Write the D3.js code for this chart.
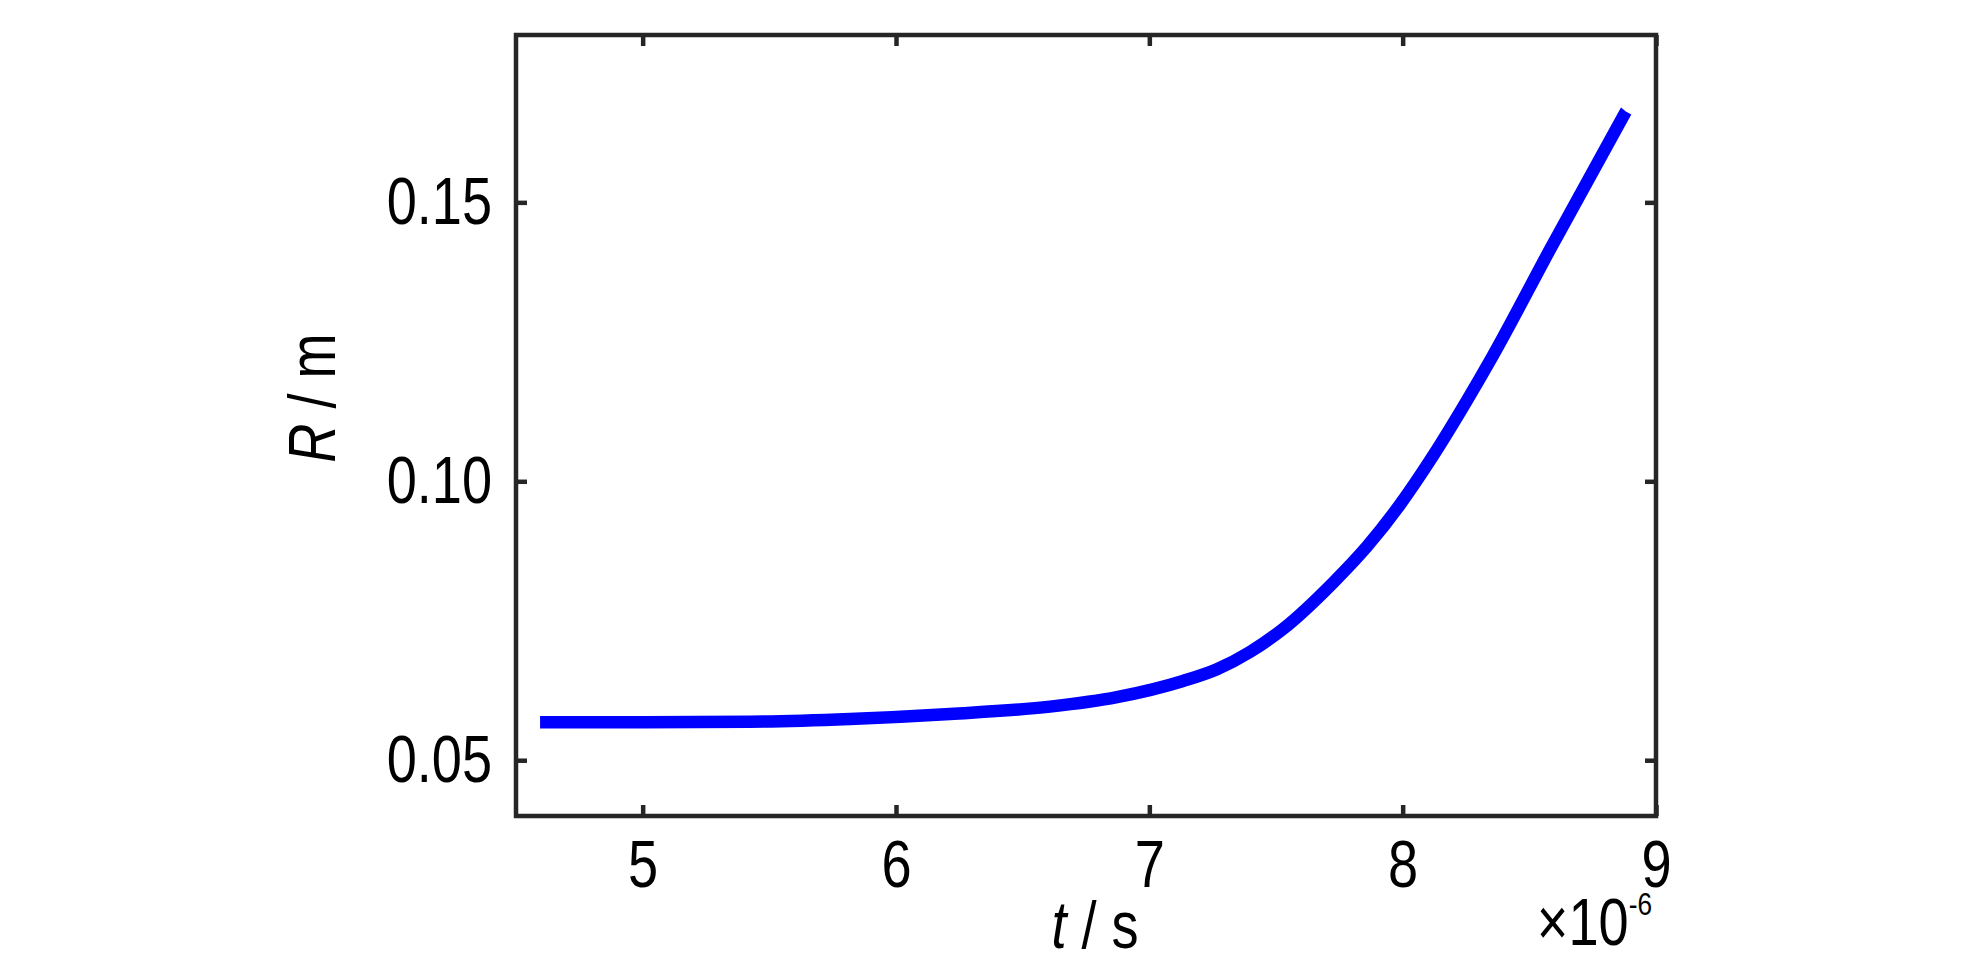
<!DOCTYPE html>
<html>
<head>
<meta charset="utf-8">
<script src="https://cdn.jsdelivr.net/npm/d3@7"></script>
<style>
  body { margin: 0; background: #fff; }
  text { font-family: "Liberation Sans", Arial, sans-serif; fill: #000; }
</style>
</head>
<body>
<div id="viz"></div>
<script>
    // size of the page
    var width = 1984;
    var height = 969;

    var margin = { top: 35, left: 516, right: 328, bottom: 153 };
    var innerWidth = width - margin.left - margin.right;
    var innerHeight = height - margin.top - margin.bottom;

    // time in units of 1e-6 s, radius in m
    var tValues = [4.595, 5.0, 5.424, 5.818, 6.213, 6.608, 6.872, 7.133, 7.267, 7.397, 7.527, 7.725, 7.859, 7.989, 8.119, 8.254, 8.356, 8.581, 8.881];
    var rValues = [0.0568, 0.0568, 0.0569, 0.0574, 0.0583, 0.0596, 0.0613, 0.0642, 0.0663, 0.0694, 0.0735, 0.0818, 0.0883, 0.0958, 0.1045, 0.1145, 0.1225, 0.1415, 0.1663];

    var xTicks = [5, 6, 7, 8, 9];
    var yTicks = [0.05, 0.10, 0.15];
    var xDomain = [4.5, 9];
    var yDomain = [0.04, 0.18];
    var xExponent = '-6';

    var data = tValues.map(function (t, i) { return { t: t, r: rValues[i] }; });

    var svg = d3.select('#viz')
        .append('svg')
        .attr('width', width)
        .attr('height', height);

    var g = svg.append('g')
        .attr('transform', 'translate(' + margin.left + ',' + margin.top + ')');

    var xScale = d3.scaleLinear().domain(xDomain).range([0, innerWidth]);
    var yScale = d3.scaleLinear().domain(yDomain).range([innerHeight, 0]);

    var axisColor = '#262626';
    var fontSize = 66;

    // ticks on all four sides, pointing inwards
    var axes = [
        { axis: d3.axisBottom(xScale).tickValues(xTicks).tickFormat(d3.format('d')), at: 'translate(0,' + innerHeight + ')', labels: true },
        { axis: d3.axisTop(xScale).tickValues(xTicks), at: 'translate(0,0)', labels: false },
        { axis: d3.axisLeft(yScale).tickValues(yTicks).tickFormat(d3.format('.2f')), at: 'translate(0,0)', labels: true },
        { axis: d3.axisRight(yScale).tickValues(yTicks), at: 'translate(' + innerWidth + ',0)', labels: false }
    ];

    axes.forEach(function (a) {
        var ax = g.append('g')
            .attr('transform', a.at)
            .call(a.axis.tickSizeInner(-11).tickSizeOuter(0).tickPadding(24));
        ax.select('.domain').remove();
        ax.selectAll('line').attr('stroke', axisColor).attr('stroke-width', 4.5);
        if (a.labels) {
            ax.selectAll('text').style('font-size', fontSize + 'px').attr('fill', '#000');
        } else {
            ax.selectAll('text').remove();
        }
    });

    // box
    g.append('rect')
        .attr('x', 0)
        .attr('y', 0)
        .attr('width', innerWidth)
        .attr('height', innerHeight)
        .attr('fill', 'none')
        .attr('stroke', axisColor)
        .attr('stroke-width', 4.5);

    // the curve
    var line = d3.line()
        .x(function (d) { return xScale(d.t); })
        .y(function (d) { return yScale(d.r); })
        .curve(d3.curveMonotoneX);

    g.append('path')
        .datum(data)
        .attr('d', line)
        .attr('fill', 'none')
        .attr('stroke', '#0000ff')
        .attr('stroke-width', 12.5)
        .attr('stroke-linecap', 'butt');

    // x label
    var xLabel = svg.append('text')
        .attr('x', 1095)
        .attr('y', 948)
        .attr('text-anchor', 'middle')
        .style('font-size', fontSize + 'px');
    xLabel.append('tspan').style('font-style', 'italic').text('t');
    xLabel.append('tspan').text(' / s');

    // y label
    var yLabel = svg.append('text')
        .attr('transform', 'translate(335,398) rotate(-90)')
        .attr('text-anchor', 'middle')
        .style('font-size', fontSize + 'px');
    yLabel.append('tspan').style('font-style', 'italic').text('R');
    yLabel.append('tspan').text(' / m');

    // exponent under the x axis
    var expo = svg.append('text')
        .attr('x', margin.left + innerWidth - 4)
        .attr('y', 945)
        .attr('text-anchor', 'end')
        .style('font-size', fontSize + 'px');
    expo.append('tspan').text('\u00d710');
    expo.append('tspan')
        .attr('dy', -30)
        .style('font-size', '32px')
        .text(xExponent);

    // the original uses a narrow face: squeeze the glyphs
    svg.selectAll('text').each(function () {
        var len = this.getComputedTextLength();
        d3.select(this)
            .attr('textLength', len * 0.82)
            .attr('lengthAdjust', 'spacingAndGlyphs');
    });
</script>
</body>
</html>
